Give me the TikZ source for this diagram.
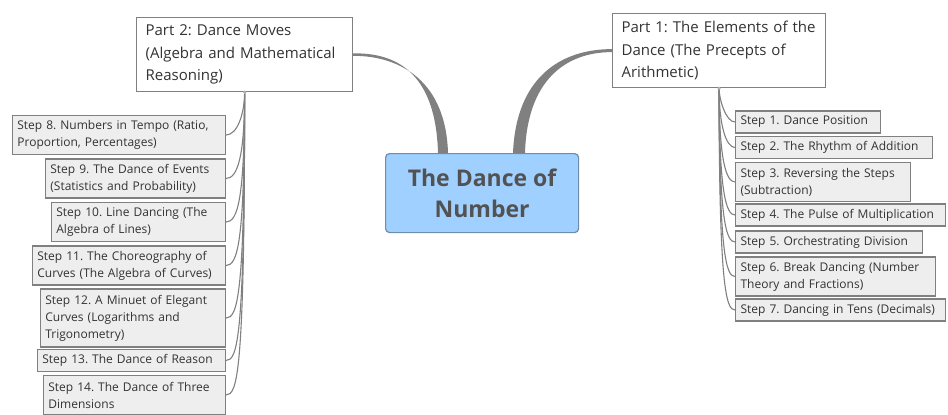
\documentclass[tikz,border=0pt]{standalone}
\usepackage{fontspec}
\setmainfont{Open Sans}
\usepackage{xcolor}
\usetikzlibrary{positioning,calc}
\definecolor{dnline}{RGB}{128,128,128}
\definecolor{dnstepfill}{RGB}{238,238,238}
\definecolor{dncentre}{RGB}{160,208,255}
\definecolor{dncentreedge}{RGB}{112,140,172}
\definecolor{dntext}{RGB}{51,51,51}

\begin{document}
\frenchspacing
\begin{tikzpicture}[x=1pt, y=1pt,
    topic/.style={rectangle, draw=dncentreedge, fill=dncentre,
                 rounded corners=4pt, line width=1.2pt,
                 minimum width=193pt, minimum height=79pt, align=center,
                 font=\fontsize{23}{31}\selectfont\bfseries, text=dntext!85!white},
    part/.style={rectangle, draw=dnline, fill=white, line width=1.2pt,
                 inner xsep=9pt, minimum height=74pt, align=left,
                 font=\fontsize{15}{22.5}\selectfont, text=dntext},
    stepbox/.style={rectangle, draw=dnline, fill=dnstepfill, line width=1.2pt,
                 inner xsep=5pt, inner ysep=2pt, align=left,
                 font=\fontsize{12}{17}\selectfont, text=dntext},
    oneline/.style={minimum height=22pt},
    twoline/.style={minimum height=39pt},
    threeline/.style={minimum height=58pt},
    branch/.style={draw=dnline, line width=1.1pt},
    stem/.style={fill=dnline},
  ]
  \useasboundingbox[fill=white] (0,0) rectangle (948,-415);

  % Sredisnja tema
  \node[topic, anchor=north west] (dance) at (385,-153) {The Dance of\\Number};

  % Dva dijela
  \node[part, text width=198pt, anchor=north west] (moves) at (136,-17)
    {Part 2: Dance Moves\\(Algebra and Mathematical\\Reasoning)};
  \node[part, text width=195pt, anchor=north west] (elem) at (612,-13)
    {Part 1: The Elements of the\\Dance (The Precepts of\\Arithmetic)};

  % Debele grane od teme
  \fill[stem] ($(dance.north west)+(53,0)$) .. controls +(-2,75) and +(48,1) ..
    ($(moves.east)+(0,1.2)$) -- ($(moves.east)+(0,-1.2)$)
    .. controls +(48,0) and +(-2,71) .. ($(dance.north west)+(63,0)$) -- cycle;
  \fill[stem] ($(dance.north west)+(128,0)$) .. controls +(3,75) and +(-52,0) ..
    ($(elem.west)+(0,1.5)$) -- ($(elem.west)+(0,-1.5)$)
    .. controls +(-48,0) and +(2,71) .. ($(dance.north west)+(140,0)$) -- cycle;

  % Koraci dijela 2
  \node[stepbox, twoline, text width=203pt, anchor=east] (step8) at (226,-135)
    {Step 8. Numbers in Tempo (Ratio,\\Proportion, Percentages)};
  \node[stepbox, twoline, text width=170pt, anchor=east] (step9) at (226,-178.5)
    {Step 9. The Dance of Events\\(Statistics and Probability)};
  \node[stepbox, twoline, text width=164pt, anchor=east] (step10) at (226,-222)
    {Step 10. Line Dancing (The\\Algebra of Lines)};
  \node[stepbox, twoline, text width=183pt, anchor=east] (step11) at (226,-265.5)
    {Step 11. The Choreography of\\Curves (The Algebra of Curves)};
  \node[stepbox, threeline, text width=175pt, anchor=east] (step12) at (226,-318)
    {Step 12. A Minuet of Elegant\\Curves (Logarithms and\\Trigonometry)};
  \node[stepbox, oneline, text width=178pt, anchor=east] (step13) at (226,-360.5)
    {Step 13. The Dance of Reason};
  \node[stepbox, twoline, text width=172pt, anchor=east] (step14) at (226,-395)
    {Step 14. The Dance of Three\\Dimensions};

  % Koraci dijela 1
  \node[stepbox, oneline, text width=135pt, anchor=west] (step1) at (735,-122)
    {Step 1. Dance Position};
  \node[stepbox, oneline, text width=187pt, anchor=west] (step2) at (735,-147.5)
    {Step 2. The Rhythm of Addition};
  \node[stepbox, twoline, text width=165pt, anchor=west] (step3) at (735,-182)
    {Step 3. Reversing the Steps\\(Subtraction)};
  \node[stepbox, oneline, text width=200pt, anchor=west] (step4) at (735,-215)
    {Step 4. The Pulse of Multiplication};
  \node[stepbox, oneline, text width=177pt, anchor=west] (step5) at (735,-242)
    {Step 5. Orchestrating Division};
  \node[stepbox, twoline, text width=190pt, anchor=west] (step6) at (735,-276.5)
    {Step 6. Break Dancing (Number\\Theory and Fractions)};
  \node[stepbox, oneline, text width=200pt, anchor=west] (step7) at (735,-310)
    {Step 7. Dancing in Tens (Decimals)};

  % Tanke grane
  \foreach \i in {8,...,14}
    \draw[branch] (moves.south) .. controls ($(moves.south |- step\i.east)+(0,22)$)
      and ($(moves.south |- step\i.east)+(-7,0)$) .. (step\i.east);
  \foreach \i in {1,...,7}
    \draw[branch] (elem.south) .. controls ($(elem.south |- step\i.west)+(0,22)$)
      and ($(elem.south |- step\i.west)+(7,0)$) .. (step\i.west);
  \fill[dnline!60] (moves.south) circle (1.8pt);
  \fill[dnline!60] (elem.south) circle (1.8pt);
\end{tikzpicture}
\end{document}
